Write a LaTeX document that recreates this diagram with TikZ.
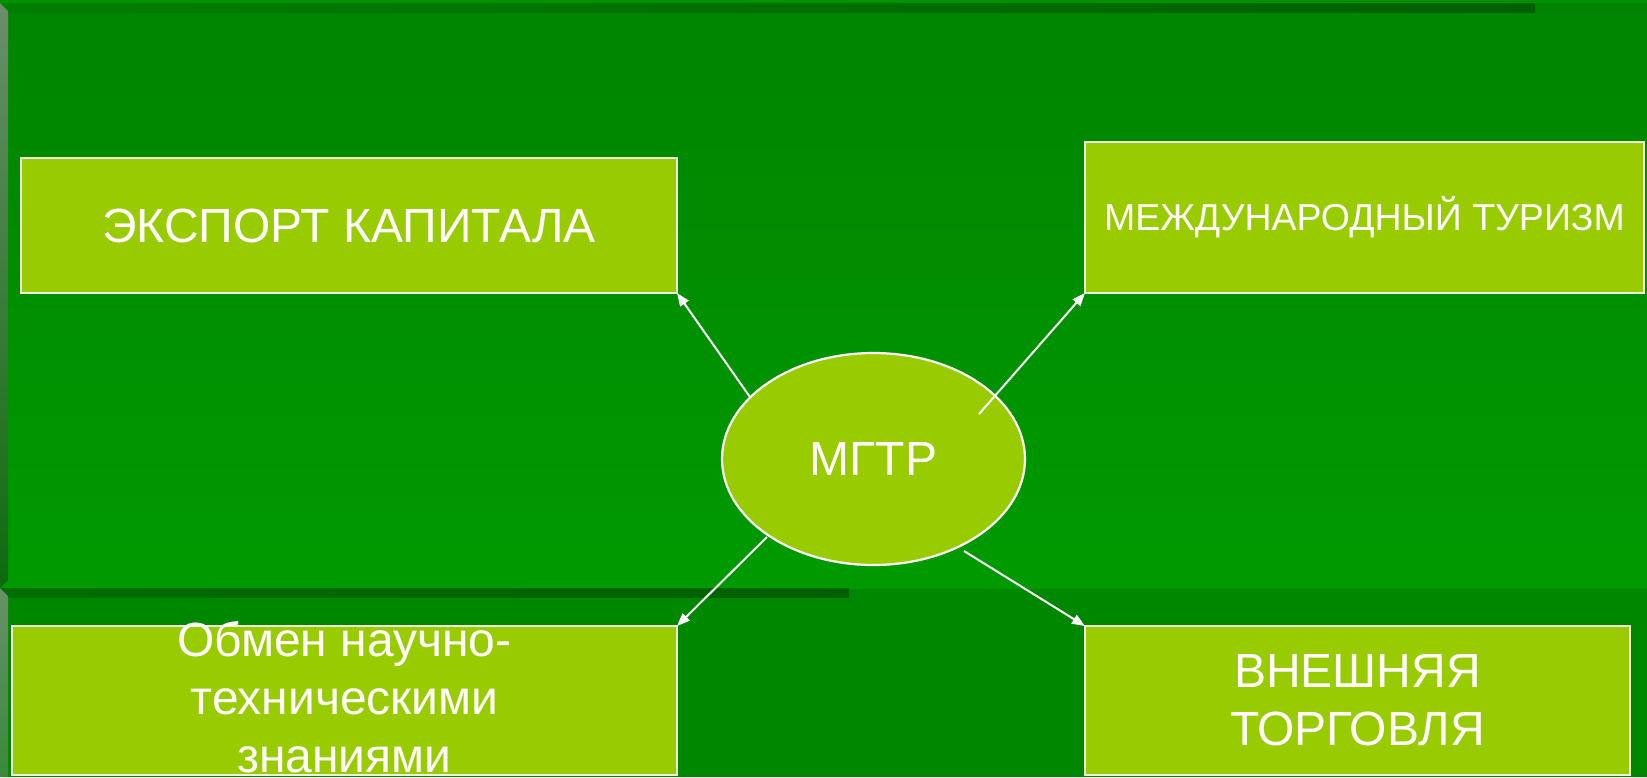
\documentclass[tikz,border=0pt]{standalone}
\usepackage{fontspec}
\setmainfont{Liberation Sans}
\usetikzlibrary{arrows.meta,shapes.geometric}
\definecolor{bgtop}{HTML}{008400}
\definecolor{bgmid}{HTML}{009A00}
\definecolor{bglow}{HTML}{008700}
\definecolor{topstrip}{HTML}{009200}
\definecolor{barleft}{HTML}{007E00}
\definecolor{barright}{HTML}{006000}
\definecolor{barlowleft}{HTML}{006E00}
\definecolor{barlowright}{HTML}{006000}
\definecolor{edgegray}{HTML}{6A8F6A}
\definecolor{edgedark}{HTML}{0E6A0E}
\definecolor{edgelow}{HTML}{3A8A3A}
\definecolor{boxfill}{HTML}{99CC00}
\definecolor{boxline}{HTML}{EEF6DD}
\tikzset{
  box/.style={draw=boxline, line width=2pt, fill=boxfill, rectangle, inner sep=0pt, outer sep=0pt,
              text=white, align=center, font=\fontsize{48}{58}\selectfont},
  oval/.style={draw=white, line width=2.2pt, fill=boxfill, ellipse, inner sep=0pt, outer sep=0pt,
              text=white, font=\fontsize{48}{58}\selectfont},
  lbl/.style={text=white, align=center, inner sep=0pt, font=\fontsize{48}{58}\selectfont},
  conn/.style={draw=white, line width=2pt, -{Triangle[length=13pt,width=10pt]}}
}
\begin{document}
\begin{tikzpicture}[x=1pt,y=-1pt]
\useasboundingbox (0,0) rectangle (1647,777);
\clip (0,0) rectangle (1647,777);
% background
\shade[top color=bgtop, bottom color=bgmid] (0,0) rectangle (1647,589);
\fill[bglow] (0,589) rectangle (1647,777);
\fill[topstrip] (0,0) rectangle (1647,3);
\shade[left color=barleft, right color=barright] (8,3) rectangle (1535,12.5);
\shade[left color=barlowleft, right color=barlowright] (0,588) rectangle (849,597);
\shade[top color=edgegray, bottom color=edgedark] (0,3) -- (8,11) -- (8,580) -- (0,588) -- cycle;
\shade[top color=edgegray, bottom color=edgelow] (0,588) -- (8,596) -- (8,777) -- (0,777) -- cycle;
% boxes
\node[box, minimum width=656pt, minimum height=135pt] (exp) at (349,225.5) {ЭКСПОРТ КАПИТАЛА};
\node[box, minimum width=559pt, minimum height=151pt, font=\fontsize{37.5}{45}\selectfont] (tour) at (1364.5,217.5) {МЕЖДУНАРОДНЫЙ ТУРИЗМ};
\node[box, minimum width=665pt, minimum height=149pt] (sci) at (344.5,700.5) {};
\node[box, minimum width=545pt, minimum height=149pt] (trade) at (1357.5,700.5) {ВНЕШНЯЯ\\ТОРГОВЛЯ};
\node[lbl] (scitext) at ([yshift=3pt]sci.center) {Обмен научно-\\техническими\\знаниями};
% centre
\node[oval, minimum width=303pt, minimum height=212pt] (m) at (873.5,459) {МГТР};
% connectors
\coordinate (s1) at (750,397);
\coordinate (s2) at (979,414);
\coordinate (s3) at (767,537);
\coordinate (s4) at (964,551);
\draw[conn] (s1) -- (exp.south east);
\draw[conn] (s2) -- (tour.south west);
\draw[conn] (s3) -- (sci.north east);
\draw[conn] (s4) -- (trade.north west);
\end{tikzpicture}
\end{document}
